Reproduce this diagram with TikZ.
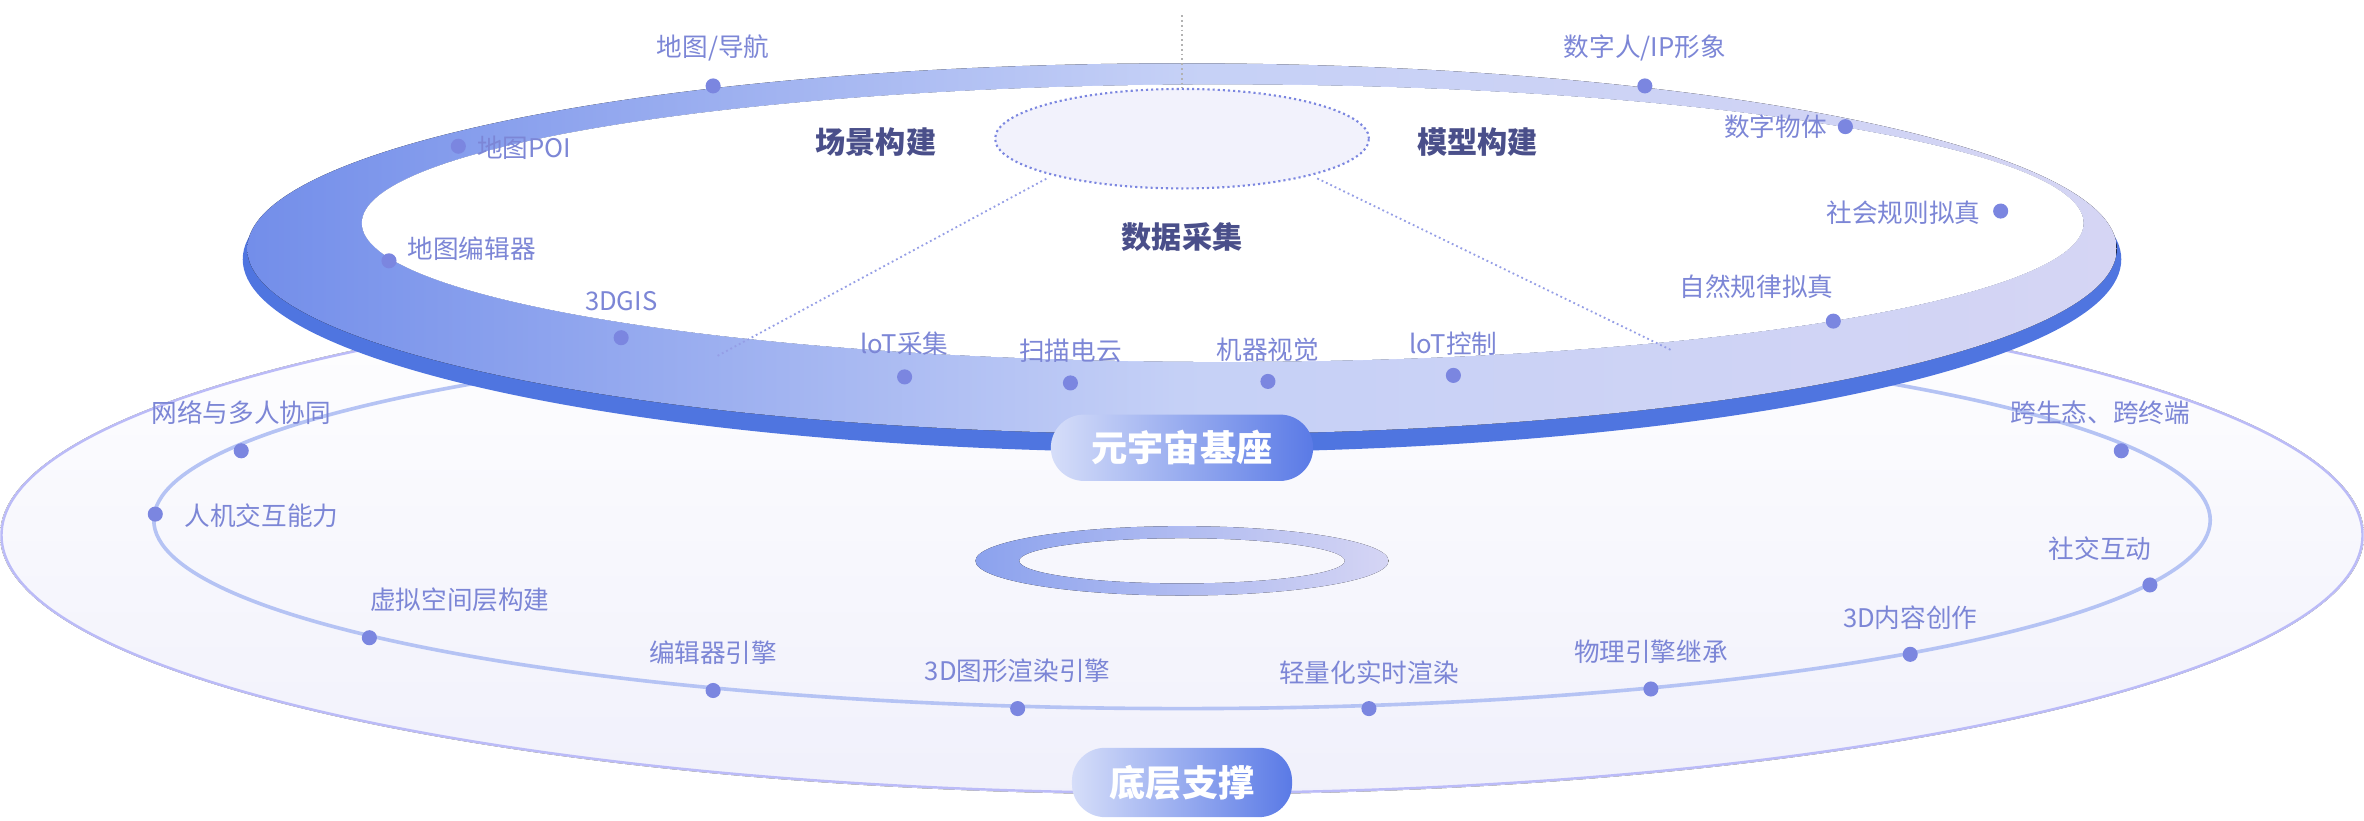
\documentclass[tikz,border=0pt]{standalone}
\usepackage{fontspec}
\setmainfont{Noto Sans CJK SC}
\usetikzlibrary{shapes.geometric}
\definecolor{dotc}{HTML}{7B86E0}
\definecolor{labc}{HTML}{7C86D6}
\definecolor{titc}{HTML}{4A4F8A}
\definecolor{ringL}{HTML}{5A7AE6}
\definecolor{ringR}{HTML}{D5D5F4}
\definecolor{rimc}{HTML}{4F75E0}
\tikzset{
 dot/.style={circle,fill=dotc,inner sep=0pt,minimum size=5pt},
 lab/.style={text=labc,font=\fontsize{8.5}{10}\selectfont,inner sep=1pt},
 tit/.style={text=titc,font=\fontsize{10}{12}\selectfont\bfseries},
 badge/.style={rounded corners=11pt,left color=ringL!25,right color=ringL,text=white,font=\fontsize{12}{14}\selectfont\bfseries,minimum height=22pt},
 dotline/.style={dotc!80,densely dotted,line width=0.6pt}
}
\begin{document}
\begin{tikzpicture}[x=0.5pt,y=-0.5pt]
\useasboundingbox (0,0) rectangle (1568,544);
% lower platform
\fill[top color=white,bottom color=ringR!35] (784,355) ellipse [x radius=784,y radius=172];
\draw[ringR!80!blue!80,line width=0.8pt] (784,355) ellipse [x radius=783,y radius=171];
\draw[ringL!45,line width=1.2pt] (784,345) ellipse [x radius=682,y radius=125];
% small ring
\fill[left color=ringL!70,right color=ringR,even odd rule] (784,372) ellipse [x radius=137,y radius=23] (784,372) ellipse [x radius=108,y radius=15];
% upper ring
\fill[rimc] (784,172) ellipse [x radius=623,y radius=128];
\fill[left color=ringL!85,right color=ringR,middle color=ringL!35,even odd rule] (784,165) ellipse [x radius=620,y radius=123] (811,148) ellipse [x radius=571,y radius=92];
\fill[white] (811,148) ellipse [x radius=571,y radius=92];
% dashed ellipse
\node[ellipse,draw=dotc,densely dotted,line width=0.7pt,fill=ringR!30,minimum width=124pt,minimum height=33pt,inner sep=0pt] (core) at (784,92) {};
\coordinate (vt) at (784,10);
\draw[densely dotted,gray!60,line width=0.6pt] (vt) -- (core.north);
\coordinate (dl) at (476,236);
\coordinate (dr) at (1108,232);
\coordinate (a1) at (695,118);
\coordinate (a2) at (873,118);
\draw[dotline] (dl) -- (a1);
\draw[dotline] (dr) -- (a2);
\node[tit] (t1) at (581,94) {场景构建};
\node[tit] (t2) at (980,94) {模型构建};
\node[tit] (t3) at (784,157) {数据采集};
% upper labels
\node[dot] (u1) at (473,57) {}; \node[lab] at (473,32) {地图/导航};
\node[dot] (u2) at (304,97) {}; \node[lab,anchor=west] at (314,98) {地图POI};
\node[dot] (u3) at (258,173) {}; \node[lab,anchor=west] at (268,165) {地图编辑器};
\node[dot] (u4) at (412,224) {}; \node[lab] at (412,200) {3DGIS};
\node[dot] (u5) at (600,250) {}; \node[lab] at (600,228) {loT采集};
\node[dot] (u6) at (710,254) {}; \node[lab] at (710,233) {扫描电云};
\node[dot] (u7) at (841,253) {}; \node[lab] at (841,232) {机器视觉};
\node[dot] (u8) at (964,249) {}; \node[lab] at (964,228) {loT控制};
\node[dot] (u9) at (1091,57) {}; \node[lab] at (1091,32) {数字人/IP形象};
\node[dot] (u10) at (1224,84) {}; \node[lab,anchor=east] at (1214,84) {数字物体};
\node[dot] (u11) at (1327,140) {}; \node[lab,anchor=east] at (1316,141) {社会规则拟真};
\node[dot] (u12) at (1216,213) {}; \node[lab] at (1165,190) {自然规律拟真};
% lower labels
\node[dot] (l1) at (160,299) {}; \node[lab] at (160,274) {网络与多人协同};
\node[dot] (l2) at (103,341) {}; \node[lab,anchor=west] at (120,342) {人机交互能力};
\node[dot] (l3) at (245,423) {}; \node[lab] at (305,398) {虚拟空间层构建};
\node[dot] (l4) at (473,458) {}; \node[lab] at (473,433) {编辑器引擎};
\node[dot] (l5) at (675,470) {}; \node[lab] at (675,445) {3D图形渲染引擎};
\node[dot] (l6) at (908,470) {}; \node[lab] at (908,446) {轻量化实时渲染};
\node[dot] (l7) at (1095,457) {}; \node[lab] at (1095,432) {物理引擎继承};
\node[dot] (l8) at (1267,434) {}; \node[lab] at (1267,410) {3D内容创作};
\node[dot] (l9) at (1426,388) {}; \node[lab] at (1393,364) {社交互动};
\node[dot] (l10) at (1407,299) {}; \node[lab] at (1393,274) {跨生态、跨终端};
% badges
\node[badge,minimum width=87pt] (b1) at (784,297) {元宇宙基座};
\node[badge,minimum width=73pt,minimum height=23pt] (b2) at (784,519) {底层支撑};
\end{tikzpicture}
\end{document}
